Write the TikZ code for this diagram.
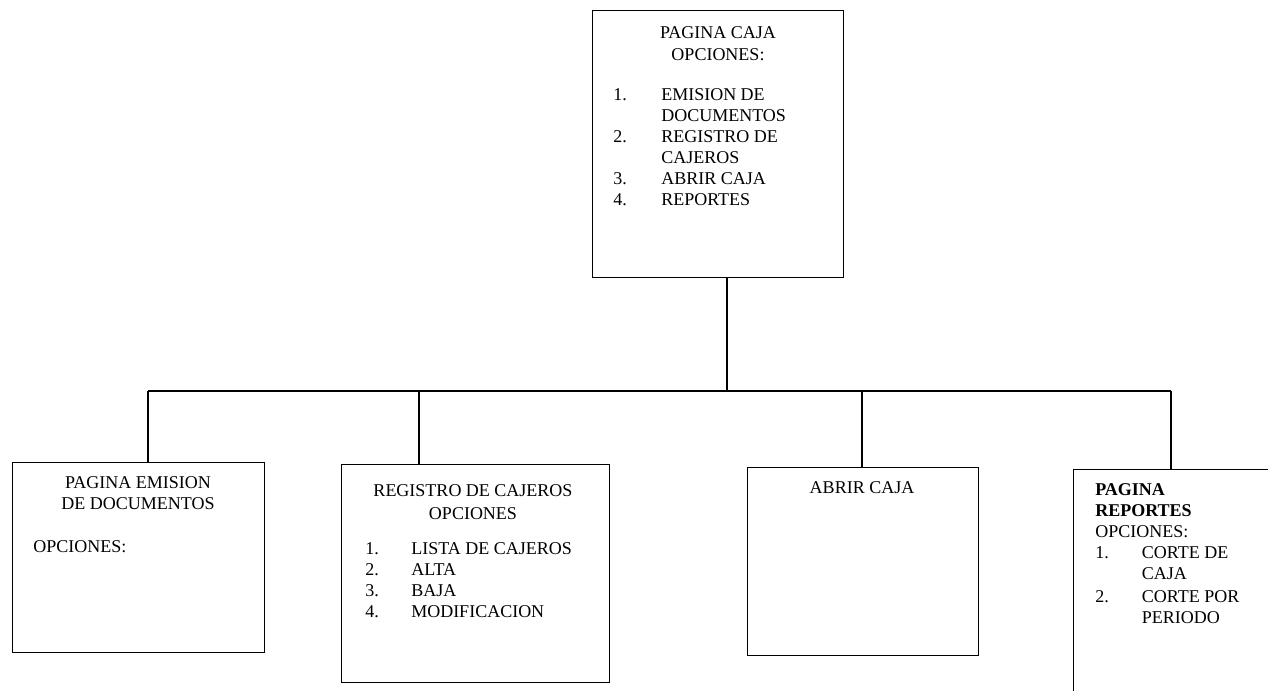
\documentclass[tikz,border=0pt]{standalone}
\usepackage{fontspec}
\setmainfont{Liberation Serif}
\begin{document}
\begin{tikzpicture}[x=0.75pt,y=-0.75pt,
  box/.style={draw, line width=1.1pt, rectangle, inner sep=0pt, anchor=north west},
  txt/.style={inner sep=0pt, font=\fontsize{13.5}{15.75}\selectfont, text=black},
  link/.style={line width=1.1pt}]
\useasboundingbox (0,0) rectangle (1268,690);
\clip (0,0) rectangle (1268,690);

% page boxes
\node[box, minimum width=188.25pt, minimum height=200.25pt] (caja) at (592,10) {};
\node[box, minimum width=189pt, minimum height=142.5pt] (emision) at (12,462) {};
\node[box, minimum width=201pt, minimum height=163.5pt] (registro) at (341,464) {};
\node[box, minimum width=173.25pt, minimum height=141pt] (abrir) at (747,467) {};
\node[box, minimum width=225pt, minimum height=195pt] (reportes) at (1073,469) {};

% main page
\node[txt, anchor=base] (cajatitle) at (718,38)
  {\begin{tabular}[t]{@{}c@{}}PAGINA CAJA\\[1pt]OPCIONES:\end{tabular}};
\node[txt, anchor=base west] (cajaitems) at (613,100)
  {\begin{tabular}[t]{@{}p{36pt}@{}l@{}}
   1. & EMISION DE\\
      & DOCUMENTOS\\
   2. & REGISTRO DE\\
      & CAJEROS\\
   3. & ABRIR CAJA\\
   4. & REPORTES
   \end{tabular}};

% document issuing page
\node[txt, anchor=base] (emititle) at (138,488)
  {\begin{tabular}[t]{@{}c@{}}PAGINA EMISION\\DE DOCUMENTOS\end{tabular}};
\node[txt, anchor=base west] (emiopts) at (33,552) {OPCIONES:};

% cashier register page
\node[txt, anchor=base] (regtitle) at (473,496)
  {\begin{tabular}[t]{@{}c@{}}REGISTRO DE CAJEROS\\[2pt]OPCIONES\end{tabular}};
\node[txt, anchor=base west] (regitems) at (365,554)
  {\begin{tabular}[t]{@{}p{34.5pt}@{}l@{}}
   1. & LISTA DE CAJEROS\\
   2. & ALTA\\
   3. & BAJA\\
   4. & MODIFICACION
   \end{tabular}};

% open register page
\node[txt, anchor=base] (abrirtitle) at (862,493) {ABRIR CAJA};

% reports page
\node[txt, anchor=base west] (reptext) at (1095,495)
  {\begin{tabular}[t]{@{}p{35pt}@{}l@{}}
   \multicolumn{2}{@{}l@{}}{\bfseries PAGINA}\\
   \multicolumn{2}{@{}l@{}}{\bfseries REPORTES}\\
   \multicolumn{2}{@{}l@{}}{OPCIONES:}\\
   1. & CORTE DE\\
      & CAJA\\[2pt]
   2. & CORTE POR\\
      & PERIODO
   \end{tabular}};

% tree connectors
\coordinate (hub) at (727,391);
\coordinate (j1) at (148,391);
\coordinate (j2) at (419,391);
\coordinate (j3) at (862,391);
\coordinate (j4) at (1171,391);
\draw[link] (caja.south -| hub) -- (hub);
\draw[link] (j1) -- (j4);
\draw[link] (j1) -- (j1 |- emision.north);
\draw[link] (j2) -- (j2 |- registro.north);
\draw[link] (j3) -- (j3 |- abrir.north);
\draw[link] (j4) -- (j4 |- reportes.north);
\end{tikzpicture}
\end{document}
